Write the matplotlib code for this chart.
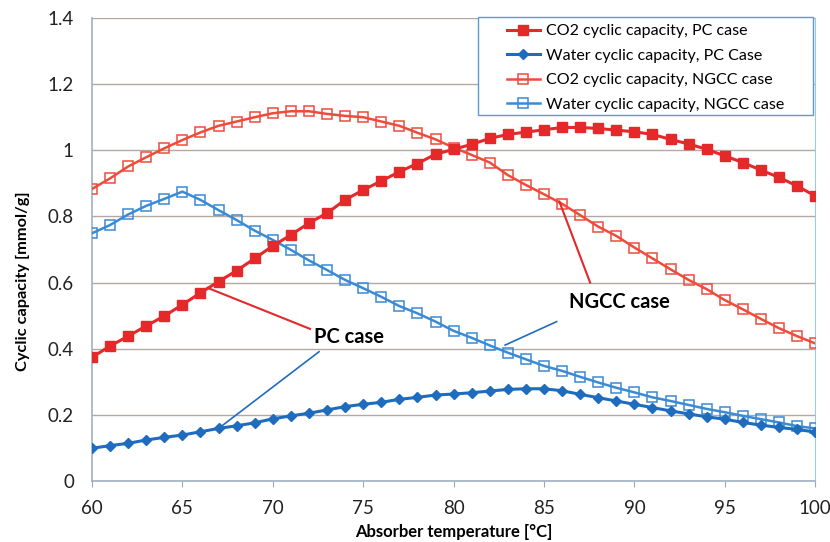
import matplotlib
matplotlib.use("Agg")
import matplotlib.pyplot as plt
from matplotlib.patches import Rectangle

plt.rcParams['font.family'] = ['Lato', 'DejaVu Sans']

temperature = list(range(60, 101))

co2_pc = [0.374, 0.408, 0.438, 0.469, 0.499, 0.533, 0.569, 0.603, 0.636, 0.673,
          0.711, 0.744, 0.780, 0.810, 0.850, 0.880, 0.907, 0.935, 0.960, 0.988,
          1.003, 1.018, 1.036, 1.048, 1.055, 1.062, 1.069, 1.069, 1.066, 1.061,
          1.056, 1.048, 1.033, 1.019, 1.003, 0.983, 0.963, 0.940, 0.918, 0.892,
          0.862]

water_pc = [0.099, 0.107, 0.114, 0.124, 0.132, 0.139, 0.149, 0.159, 0.167, 0.176,
            0.188, 0.197, 0.205, 0.215, 0.225, 0.232, 0.238, 0.247, 0.253, 0.260,
            0.263, 0.267, 0.272, 0.277, 0.279, 0.279, 0.273, 0.262, 0.252, 0.242,
            0.232, 0.222, 0.212, 0.203, 0.194, 0.187, 0.177, 0.169, 0.162, 0.156,
            0.148]

co2_ngcc = [0.883, 0.915, 0.951, 0.979, 1.006, 1.031, 1.054, 1.074, 1.087, 1.100,
            1.112, 1.118, 1.118, 1.110, 1.104, 1.100, 1.087, 1.074, 1.053, 1.033,
            1.008, 0.986, 0.963, 0.925, 0.895, 0.867, 0.838, 0.804, 0.769, 0.741,
            0.706, 0.673, 0.640, 0.608, 0.580, 0.547, 0.519, 0.490, 0.462, 0.438,
            0.416]

water_ngcc = [0.749, 0.774, 0.806, 0.832, 0.853, 0.875, 0.850, 0.819, 0.789, 0.757,
              0.729, 0.699, 0.667, 0.638, 0.608, 0.583, 0.557, 0.529, 0.507, 0.482,
              0.454, 0.433, 0.410, 0.388, 0.368, 0.348, 0.333, 0.315, 0.298, 0.282,
              0.268, 0.253, 0.242, 0.230, 0.218, 0.208, 0.197, 0.187, 0.177, 0.166,
              0.159]

labels = ["CO2 cyclic capacity, PC case", "Water cyclic capacity, PC Case",
          "CO2 cyclic capacity, NGCC case", "Water cyclic capacity, NGCC case"]

x_ticks = [60, 65, 70, 75, 80, 85, 90, 95, 100]
y_ticks = [0, 0.2, 0.4, 0.6, 0.8, 1, 1.2, 1.4]
y_ticklabels = ["0", "0.2", "0.4", "0.6", "0.8", "1", "1.2", "1.4"]

red = '#e5282a'
red_open = '#ee4b3c'
blue = '#1f6cbf'
blue_open = '#3a8ad6'

fig = plt.figure(figsize=(8.3, 5.42), dpi=100)
ax = fig.add_axes([0.1108, 0.1125, 0.8714, 0.8543])

ax.plot(temperature, co2_pc, color=red, lw=2.2, marker='s', ms=6.8,
        mfc=red, mec=red, label=labels[0], zorder=4)
ax.plot(temperature, water_pc, color=blue, lw=2.2, marker='D', ms=5.5,
        mfc=blue, mec=blue, label=labels[1], zorder=4)
ax.plot(temperature, co2_ngcc, color=red_open, lw=1.8, marker='s', ms=6.5,
        mfc='none', mec=red_open, mew=1.1, label=labels[2], zorder=3)
ax.plot(temperature, water_ngcc, color=blue_open, lw=1.8, marker='s', ms=6.5,
        mfc='none', mec=blue_open, mew=1.1, label=labels[3], zorder=3)

ax.set_xlim(60, 100)
ax.set_ylim(0, 1.4)
ax.set_xticks(x_ticks)
ax.set_yticks(y_ticks)
ax.set_yticklabels(y_ticklabels)
ax.tick_params(axis='both', labelsize=13.5, colors='#222222')
ax.tick_params(axis='x', direction='out', length=4.5, color='#9aa9b8', pad=9)
ax.tick_params(axis='y', length=0, pad=13)
ax.grid(axis='y', color='#b3a9a2', lw=1.0)
ax.set_axisbelow(True)
ax.spines['top'].set_visible(False)
ax.spines['right'].set_color('#9cc8ee')
ax.spines['left'].set_color('#9fb0c2')
ax.spines['bottom'].set_color('#9fb0c2')
ax.spines['left'].set_linewidth(1.2)
ax.spines['bottom'].set_linewidth(1.2)

ax.set_xlabel("Absorber temperature [°C]", fontsize=12, fontweight='bold', va='bottom')
ax.xaxis.set_label_coords(0.5, (-0.1125 + 2.0 / 542) / 0.8543)
ax.set_ylabel("Cyclic capacity [mmol/g]", fontsize=11.8, fontweight='bold', va='center')
ax.yaxis.set_label_coords(-0.0954, 0.432)

# Legend (frame drawn separately to reproduce the wide padding)
leg = fig.legend(*ax.get_legend_handles_labels(), loc='upper left',
                 bbox_to_anchor=(0.6108, 0.9555), fontsize=11.5,
                 frameon=False, handlelength=2.06, handletextpad=0.4,
                 borderpad=0.0, borderaxespad=0.0, labelspacing=0.64)
fig.patches.append(Rectangle((478 / 830, 1 - 115 / 542), 335 / 830, 98 / 542,
                             transform=fig.transFigure, facecolor='white',
                             edgecolor='#5b9bd5', lw=1.0, zorder=0))

# Annotations
ax.text(74.2, 0.436, "PC case", fontsize=14.5, fontweight='bold', ha='center', va='center', zorder=6)
ax.plot([66.4, 72.06], [0.584, 0.46], color=red, lw=1.5, zorder=5)
ax.plot([67.0, 72.56], [0.159, 0.391], color=blue, lw=1.2, zorder=5)

ax.text(89.15, 0.542, "NGCC case", fontsize=14.5, fontweight='bold', ha='center', va='center', zorder=6)
ax.plot([85.85, 87.55], [0.845, 0.600], color=red, lw=1.5, zorder=5)
ax.plot([82.85, 85.7], [0.411, 0.482], color=blue, lw=1.2, zorder=5)

fig.savefig("out.png", dpi=100)
